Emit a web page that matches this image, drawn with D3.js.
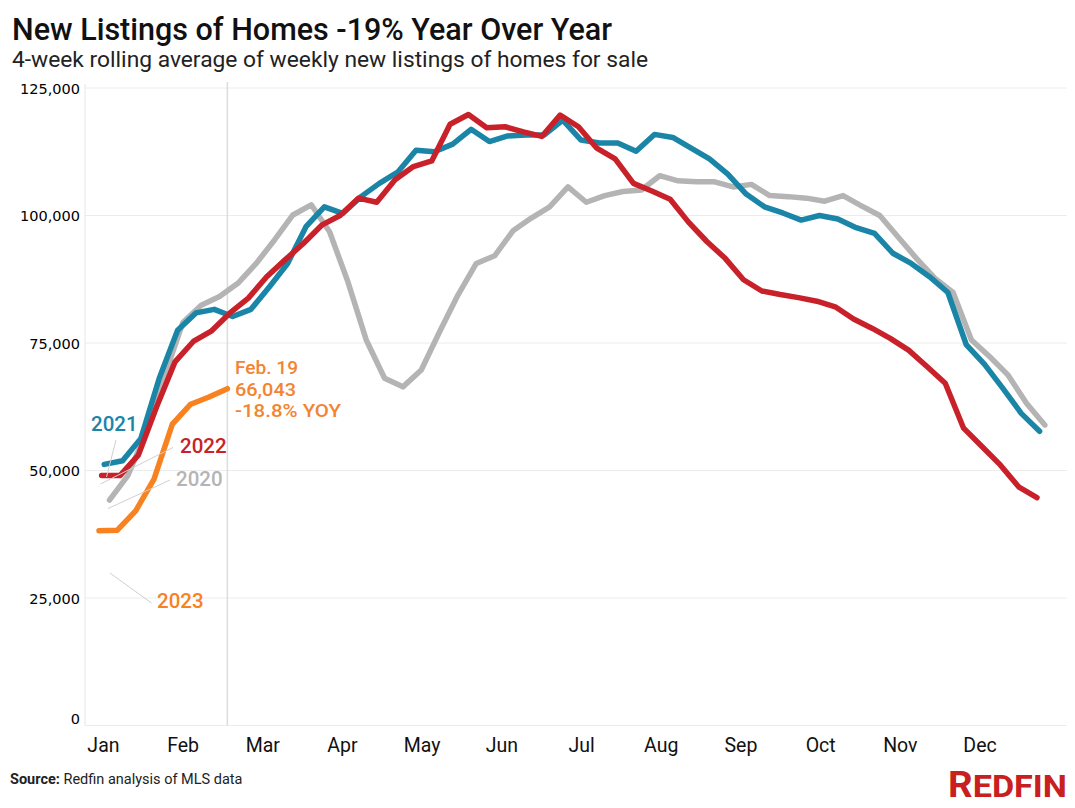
<!DOCTYPE html>
<html>
<head>
<meta charset="utf-8">
<script src="https://cdn.jsdelivr.net/npm/d3@7"></script>
<style>
  body { margin: 0; background: #fff; }
  svg { display: block; }
</style>
</head>
<body>
<svg id="chart"></svg>
<script>
// weekly values, 4-week rolling average of new listings
let months = ['Jan', 'Feb', 'Mar', 'Apr', 'May', 'Jun', 'Jul', 'Aug', 'Sep', 'Oct', 'Nov', 'Dec']
let yTicks = [0, 25000, 50000, 75000, 100000, 125000]

let values2020 = [44200, 49000, 57500, 68500, 79000, 82400, 84100, 86700, 90600, 95200, 100100, 102100,
  96800, 87000, 75600, 68100, 66400, 69700, 77200, 84400, 90600, 92100, 97000, 99500, 101700, 105600,
  102600, 103900, 104700, 105000, 107800, 106800, 106600, 106600, 105600, 106100, 103900, 103700, 103400,
  102800, 103900, 101900, 100000, 95800, 91600, 87700, 84900, 75600, 72300, 68700, 63200, 58900]
let values2021 = [51200, 51900, 56300, 68100, 77500, 80900, 81600, 80200, 81600, 86000, 90600, 97800,
  101700, 100400, 103700, 106300, 108500, 112800, 112500, 114000, 116900, 114500, 115600, 115800, 115800, 118700,
  114800, 114200, 114200, 112600, 115900, 115300, 113200, 111100, 108100, 104200, 101700, 100500, 99100,
  100000, 99300, 97600, 96500, 92600, 90600, 88000, 84900, 74700, 70800, 66100, 61200, 57700]
let values2022 = [49000, 49000, 53000, 62500, 71300, 75300, 77400, 80900, 83800, 88000, 91300, 94500,
  98100, 100000, 103400, 102600, 107000, 109600, 110700, 117900, 119800, 117200, 117400, 116400, 115500, 119700,
  117400, 113200, 111100, 106300, 104800, 103200, 98700, 94900, 91600, 87400, 85200, 84500, 83900,
  83200, 82100, 79700, 77900, 75900, 73600, 70400, 67100, 58300, 54700, 51100, 46800, 44700]
let values2023 = [38200, 38300, 42100, 48300, 59100, 63000, 64400, 66043]

// day of year of the first week-ending date for each year
let startDays = { 2020: 4, 2021: 2, 2022: 1, 2023: 0 }

let width = 1075
let height = 808

let svg = d3.select('#chart')
  .attr('width', width)
  .attr('height', height)

svg.append('rect').attr('width', width).attr('height', height).attr('fill', '#fff')

let xScale = d3.scaleLinear().domain([0, 364]).range([99, 99 + 364 * 2.62])
let yScale = d3.scaleLinear().domain([0, 125000]).range([725.5, 88])

let toPoints = (vals, year) => vals.map((v, i) => ({ day: startDays[year] + 7 * i, value: v }))

let series = [
  { year: 2020, color: '#b4b4b4', points: toPoints(values2020, 2020) },
  { year: 2021, color: '#1a85a6', points: toPoints(values2021, 2021) },
  { year: 2022, color: '#c9212a', points: toPoints(values2022, 2022) },
  { year: 2023, color: '#f7821f', points: toPoints(values2023, 2023) }
]

// title
svg.append('text')
  .attr('x', 12).attr('y', 40)
  .attr('font-family', 'Roboto').attr('font-weight', 500).attr('font-size', 30.5)
  .attr('fill', '#111')
  .attr('textLength', 600).attr('lengthAdjust', 'spacingAndGlyphs')
  .text('New Listings of Homes -19% Year Over Year')

svg.append('text')
  .attr('x', 12).attr('y', 67)
  .attr('font-family', 'Roboto').attr('font-size', 21.5)
  .attr('fill', '#222')
  .attr('textLength', 636).attr('lengthAdjust', 'spacingAndGlyphs')
  .text('4-week rolling average of weekly new listings of homes for sale')

// gridlines
svg.append('g')
  .selectAll('line')
  .data(yTicks)
  .enter()
  .append('line')
  .attr('x1', 85).attr('x2', 1067)
  .attr('y1', (d) => yScale(d)).attr('y2', (d) => yScale(d))
  .attr('stroke', '#ececec').attr('stroke-width', 1)

svg.append('line')
  .attr('x1', 85).attr('x2', 85)
  .attr('y1', 84).attr('y2', yScale(0))
  .attr('stroke', '#e6e6e6')

// Feb 19 marker line
svg.append('line')
  .attr('x1', xScale(49)).attr('x2', xScale(49))
  .attr('y1', 82).attr('y2', yScale(0))
  .attr('stroke', '#dcdcdc').attr('stroke-width', 1.5)

// y axis
let yAxis = d3.axisLeft(yScale)
  .tickValues(yTicks)
  .tickFormat(d3.format(','))
  .tickSize(0)
  .tickPadding(5)

let yG = svg.append('g')
  .attr('transform', 'translate(85, 0)')
  .call(yAxis)
yG.select('.domain').remove()
yG.selectAll('text')
  .attr('font-family', 'DejaVu Sans').attr('font-size', 14.5).attr('fill', '#000')
  .attr('dy', (d) => d == 0 ? '-0.15em' : '0.35em')

// x axis
let xAxis = d3.axisBottom(xScale)
  .tickValues(d3.range(12).map((i) => 1.5 + i * 365 / 12))
  .tickFormat((d, i) => months[i])
  .tickSize(0)
  .tickPadding(0)

let xG = svg.append('g')
  .attr('transform', 'translate(0, 752)')
  .call(xAxis)
xG.select('.domain').remove()
xG.selectAll('text')
  .attr('font-family', 'Roboto').attr('font-size', 19.5).attr('fill', '#111')
  .attr('dy', 0)

// lines
let line = d3.line()
  .x((d) => xScale(d.day))
  .y((d) => yScale(d.value))

svg.append('g')
  .selectAll('path')
  .data(series)
  .enter()
  .append('path')
  .attr('d', (d) => line(d.points))
  .attr('fill', 'none')
  .attr('stroke', (d) => d.color)
  .attr('stroke-width', 5.5)
  .attr('stroke-linejoin', 'round')
  .attr('stroke-linecap', 'round')

// year labels with leader lines
let leaders = [
  [116, 440, 106.5, 477],
  [173, 447.5, 100.5, 484],
  [170, 480, 108, 508.5],
  [110, 573, 151.5, 603]
]
svg.append('g')
  .selectAll('line')
  .data(leaders)
  .enter()
  .append('line')
  .attr('x1', (d) => d[0]).attr('y1', (d) => d[1])
  .attr('x2', (d) => d[2]).attr('y2', (d) => d[3])
  .attr('stroke', '#d0d0d0').attr('stroke-width', 1)

let yearLabels = [
  { text: '2021', x: 91, y: 431, color: '#1a85a6' },
  { text: '2022', x: 180, y: 453, color: '#c9212a' },
  { text: '2020', x: 176, y: 486, color: '#b4b4b4' },
  { text: '2023', x: 157, y: 608, color: '#f7821f' }
]
svg.append('g')
  .selectAll('text')
  .data(yearLabels)
  .enter()
  .append('text')
  .attr('x', (d) => d.x).attr('y', (d) => d.y)
  .attr('font-family', 'Roboto').attr('font-weight', 500).attr('font-size', 20.5)
  .attr('fill', (d) => d.color)
  .text((d) => d.text)

// Feb. 19 callout
let noteLines = ['Feb. 19', '66,043', '-18.8% YOY']
svg.append('g')
  .selectAll('text')
  .data(noteLines)
  .enter()
  .append('text')
  .attr('x', 235)
  .attr('y', (d, i) => 374 + i * 21.5)
  .attr('font-family', 'Roboto').attr('font-weight', 500).attr('font-size', 19)
  .attr('fill', '#f28433')
  .attr('textLength', (d, i) => [63, 61, 106][i]).attr('lengthAdjust', 'spacingAndGlyphs')
  .text((d) => d)

// source
let src = svg.append('text')
  .attr('x', 10).attr('y', 784)
  .attr('font-family', 'Roboto').attr('font-size', 14.5).attr('fill', '#222')
src.append('tspan').attr('font-weight', 700).text('Source:')
src.append('tspan').text(' Redfin analysis of MLS data')

// logo
let logo = svg.append('text')
  .attr('x', 1067).attr('y', 797)
  .attr('text-anchor', 'end')
  .attr('font-family', 'Roboto').attr('font-weight', 700)
  .attr('fill', '#c82021')
  .attr('textLength', 119).attr('lengthAdjust', 'spacingAndGlyphs')
logo.append('tspan').attr('font-size', 36).text('R')
logo.append('tspan').attr('font-size', 32).text('EDFIN')
</script>
</body>
</html>
